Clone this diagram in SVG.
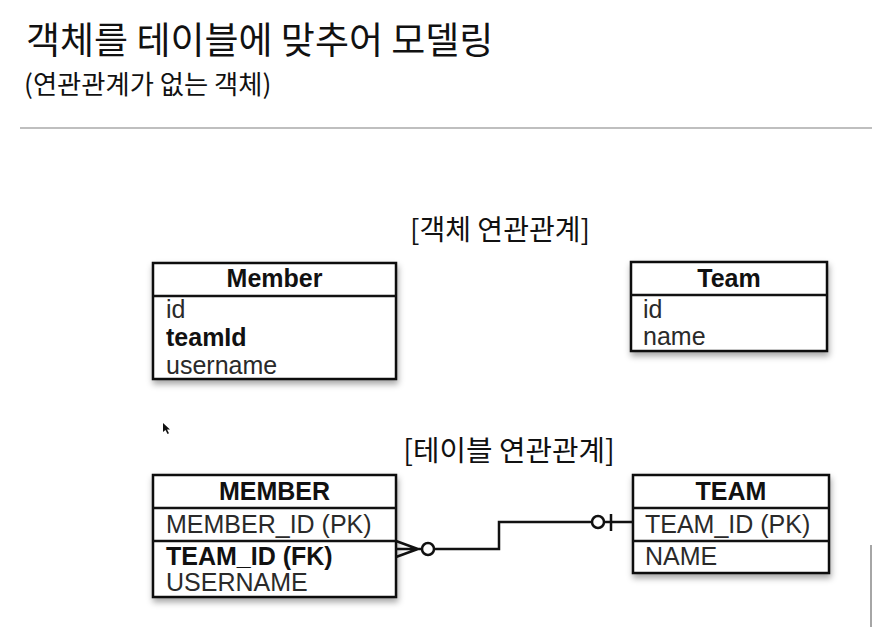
<svg xmlns="http://www.w3.org/2000/svg" width="872" height="627" viewBox="0 0 872 627">
<defs>
<style>
.kr{font-family:"Noto Sans CJK KR","Noto Sans",sans-serif;fill:#111;}
.box{fill:#fff;stroke:#111;stroke-width:2.5;}
.sep{stroke:#111;stroke-width:2.5;}
.hd{font-family:"Liberation Sans",Arial,sans-serif;font-size:25px;font-weight:bold;fill:#111;text-anchor:middle;}
.row{font-family:"Liberation Sans",Arial,sans-serif;font-size:25px;fill:#2a2a2a;}
.rowb{font-family:"Liberation Sans",Arial,sans-serif;font-size:25px;font-weight:bold;fill:#111;}
.conn{fill:none;stroke:#111;stroke-width:2.5;}
</style>
<filter id="sh" x="-10%" y="-10%" width="125%" height="130%">
<feDropShadow dx="1" dy="4" stdDeviation="3" flood-color="#000" flood-opacity="0.35"/>
</filter>
</defs>
<rect width="872" height="627" fill="#fff"/>
<g id="title">
<text class="kr" x="26" y="54" font-size="37">객체를 테이블에 맞추어 모델링</text>
<text class="kr" x="24" y="94" font-size="26.3">(연관관계가 없는 객체)</text>
<line x1="20" y1="128" x2="872" y2="128" stroke="#aaa" stroke-width="1.5"/>
</g>
<g id="label-object">
<text class="kr" x="500" y="240" font-size="28" text-anchor="middle">[객체 연관관계]</text>
</g>
<g id="label-table">
<text class="kr" x="509" y="461" font-size="28.8" text-anchor="middle">[테이블 연관관계]</text>
</g>
<g id="Member">
<rect class="box" x="153" y="263" width="243" height="116" filter="url(#sh)"/>
<line class="sep" x1="153" y1="296" x2="396" y2="296"/>
<text class="hd" x="274.5" y="287">Member</text>
<text class="row" x="166" y="318">id</text>
<text class="rowb" x="166" y="346">teamId</text>
<text class="row" x="166" y="374">username</text>
</g>
<g id="Team">
<rect class="box" x="631" y="262" width="196" height="89" filter="url(#sh)"/>
<line class="sep" x1="631" y1="295" x2="827" y2="295"/>
<text class="hd" x="729" y="287">Team</text>
<text class="row" x="643" y="318">id</text>
<text class="row" x="643" y="345">name</text>
</g>
<g id="MEMBER">
<rect class="box" x="153" y="475" width="243" height="122" filter="url(#sh)"/>
<line class="sep" x1="153" y1="508" x2="396" y2="508"/>
<line class="sep" x1="153" y1="541" x2="396" y2="541"/>
<text class="hd" x="274.5" y="500">MEMBER</text>
<text class="row" x="166" y="533">MEMBER_ID (PK)</text>
<text class="rowb" x="166" y="565">TEAM_ID (FK)</text>
<text class="row" x="166" y="591">USERNAME</text>
</g>
<g id="TEAM">
<rect class="box" x="633" y="475" width="196" height="98" filter="url(#sh)"/>
<line class="sep" x1="633" y1="508" x2="829" y2="508"/>
<line class="sep" x1="633" y1="541" x2="829" y2="541"/>
<text class="hd" x="731" y="500">TEAM</text>
<text class="row" x="645" y="533">TEAM_ID (PK)</text>
<text class="row" x="645" y="565">NAME</text>
</g>
<g id="connectors">
<path class="conn" d="M396 541 L418 549 L396 557 M396 549 L422 549"/>
<circle cx="428" cy="549" r="6" fill="#fff" stroke="#111" stroke-width="2.5"/>
<path class="conn" d="M434 549 L499 549 L499 522 L592 522"/>
<circle cx="598" cy="522" r="6" fill="#fff" stroke="#111" stroke-width="2.5"/>
<path class="conn" d="M604 522 L633 522 M611 514 L611 531"/>
</g>
<g id="decor">
<path d="M163 423 L163 432 L165.5 430 L167.5 434 L169 433.3 L167 429.5 L170 429.5 Z" fill="#111"/>
<line x1="871" y1="545" x2="871" y2="627" stroke="#888" stroke-width="1.5"/>
</g>
</svg>
